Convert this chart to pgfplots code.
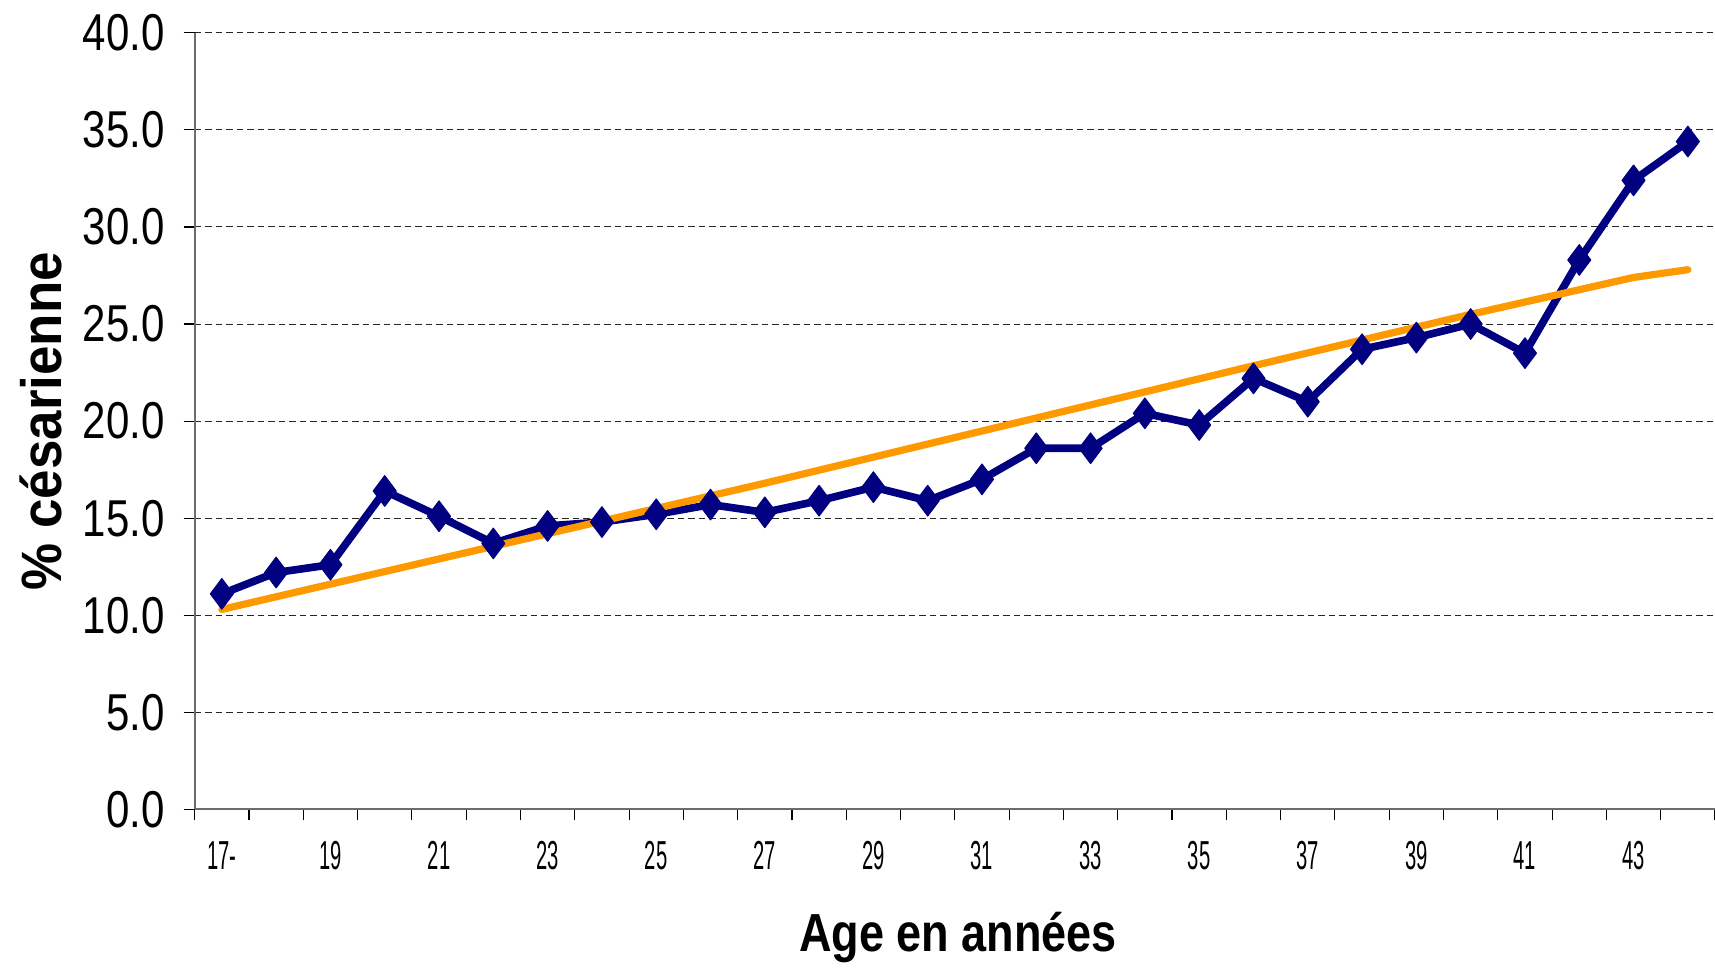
\documentclass[border=0pt]{standalone}
\usepackage{fontspec}
\setmainfont{Liberation Sans}
\usepackage{pgfplots}
\pgfplotsset{compat=1.18}
\usepackage{graphicx}
\definecolor{navyline}{RGB}{0,0,128}
\definecolor{trendor}{RGB}{255,153,0}
\newcommand\xl[1]{\scalebox{0.5}[1]{#1}}
\begin{document}
\begin{tikzpicture}
\begin{axis}[
  scale only axis, width=695pt, height=355pt,
  xmin=-0.5, xmax=27.5, ymin=0, ymax=40,
  axis lines*=left,
  axis line style={draw=gray!85!black, line width=1pt},
  tick align=outside,
  xtick={0,2,...,26},
  xticklabels={\xl{17-},\xl{19},\xl{21},\xl{23},\xl{25},\xl{27},\xl{29},\xl{31},\xl{33},\xl{35},\xl{37},\xl{39},\xl{41},\xl{43}},
  major x tick style={draw=none},
  minor xtick={-0.5,0.5,...,27.5},
  minor tick length=5pt,
  major tick length=5pt,
  tick style={black, line width=0.5pt},
  ytick={0,5,...,40},
  /pgf/number format/assume math mode=true,
  yticklabel={\scalebox{0.81}[1]{\pgfmathprintnumber[fixed,fixed zerofill,precision=1]{\tick}}},
  yticklabel style={font=\fontsize{23.7}{28}\selectfont, anchor=east, inner sep=0pt, xshift=-8.5pt},
  xticklabel style={font=\fontsize{18.5}{20}\selectfont, anchor=north, inner sep=0pt, yshift=-9.5pt},
  ymajorgrids=true,
  major grid style={black!85, line width=0.45pt, dash pattern=on 3pt off 1.8pt},
  xlabel={\scalebox{0.84}[1]{\bfseries Age en années}},
  xlabel style={font=\fontsize{24.5}{28}\selectfont, at={(axis description cs:0.502,-0.165)}, anchor=center},
  ylabel={\scalebox{0.93}[1]{\bfseries \%\ césarienne}},
  ylabel style={font=\fontsize{26}{30}\selectfont, at={(axis description cs:-0.1014,0.5)}, anchor=center},
  clip=false,
]
\addplot[navyline, line width=3.5pt, line join=round, mark=diamond*, mark size=7pt,
  mark options={solid, fill=navyline, draw=navyline, line width=0.5pt}] coordinates {
  (0,11.1) (1,12.2) (2,12.6) (3,16.4) (4,15.1) (5,13.7) (6,14.6) (7,14.8)
  (8,15.2) (9,15.7) (10,15.3) (11,15.9) (12,16.6) (13,15.9) (14,17.0) (15,18.6)
  (16,18.6) (17,20.4) (18,19.8) (19,22.2) (20,21.0) (21,23.7) (22,24.3) (23,25.0)
  (24,23.5) (25,28.3) (26,32.4) (27,34.4)
};
\addplot[trendor, line width=3.3pt, line cap=round, line join=round, mark=none] coordinates {
  (0,10.3) (10,16.8) (19,22.85) (23,25.5) (26,27.4) (27,27.8)
};
\end{axis}
\pgfresetboundingbox
\useasboundingbox (-89pt,-72.5pt) rectangle (695pt,370pt);
\end{tikzpicture}
\end{document}
